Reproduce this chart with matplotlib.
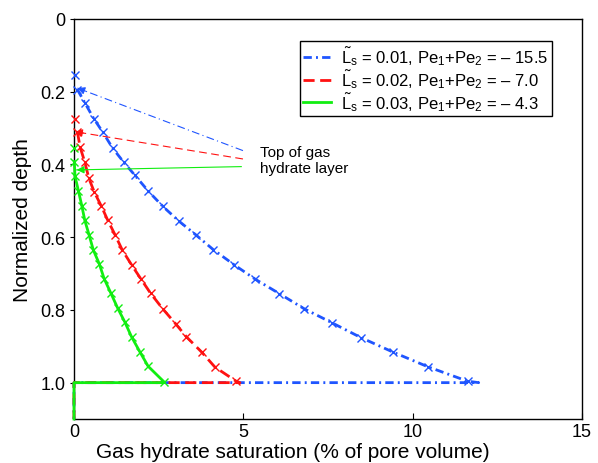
import matplotlib
matplotlib.use("Agg")
import matplotlib.pyplot as plt

plt.rcParams['font.family'] = ['Liberation Sans', 'DejaVu Sans']
plt.rcParams['mathtext.fontset'] = 'custom'
plt.rcParams['mathtext.rm'] = 'Liberation Sans'
plt.rcParams['mathtext.it'] = 'Liberation Sans:italic'

# ---- data ----
blue_depth = [0.154, 0.194, 0.232, 0.275, 0.311, 0.355, 0.394, 0.430, 0.474, 0.515, 0.556,
              0.593, 0.634, 0.676, 0.716, 0.755, 0.797, 0.835, 0.876, 0.916, 0.956, 0.996]
blue_sat = [0.03, 0.10, 0.33, 0.59, 0.85, 1.14, 1.47, 1.80, 2.20, 2.62, 3.10,
            3.59, 4.11, 4.73, 5.36, 6.06, 6.80, 7.61, 8.47, 9.42, 10.44, 11.62]
blue_end = 11.95

red_depth = [0.275, 0.310, 0.352, 0.394, 0.438, 0.476, 0.515, 0.552, 0.593, 0.636,
             0.676, 0.714, 0.754, 0.797, 0.838, 0.874, 0.916, 0.957, 0.995]
red_sat = [0.03, 0.10, 0.18, 0.32, 0.44, 0.60, 0.81, 0.99, 1.21, 1.43,
           1.70, 1.97, 2.26, 2.62, 3.00, 3.32, 3.77, 4.16, 4.77]
red_end = 4.9

green_depth = [0.355, 0.392, 0.432, 0.472, 0.513, 0.554, 0.595, 0.635, 0.674,
               0.714, 0.754, 0.795, 0.833, 0.874, 0.916, 0.955, 0.998]
green_sat = [0.00, 0.01, 0.03, 0.13, 0.23, 0.32, 0.45, 0.57, 0.75,
             0.89, 1.09, 1.29, 1.50, 1.70, 1.95, 2.19, 2.66]
green_end = 2.63

base_depth = 1.0
bottom_depth = 1.1

labels = [r'$\tilde{\mathrm{L}}_\mathrm{s}$ = 0.01, Pe$_1$+Pe$_2$ = – 15.5',
          r'$\tilde{\mathrm{L}}_\mathrm{s}$ = 0.02, Pe$_1$+Pe$_2$ = – 7.0',
          r'$\tilde{\mathrm{L}}_\mathrm{s}$ = 0.03, Pe$_1$+Pe$_2$ = – 4.3']

# annotation: tails and tips of the "top of layer" arrows (sat, depth)
arrow_tail = [(4.99, 0.362), (4.99, 0.385), (4.94, 0.406)]
arrow_tip = [(0.10, 0.190), (0.03, 0.310), (0.08, 0.415)]
note_pos = (5.49, 0.388)
note_text = "Top of gas\nhydrate layer"

xticks = [0, 5, 10, 15]
yticks = [0, 0.2, 0.4, 0.6, 0.8, 1.0]
yticklabels = ['0', '0.2', '0.4', '0.6', '0.8', '1.0']

colors = ['#1f55ff', '#ff1111', '#11ee11']
styles = [(0, (3, 1.5, 0.7, 1.5)), (0, (4, 2)), '-']
thin_styles = [(0, (7, 3, 1, 3)), (0, (7, 4)), '-']

fig = plt.figure(figsize=(5.98, 4.64), dpi=100)
ax = fig.add_axes([0.1237, 0.0948, 0.8495, 0.8622])

series = [(blue_sat, blue_depth, blue_end), (red_sat, red_depth, red_end),
          (green_sat, green_depth, green_end)]
for i, (s, d, e) in enumerate(series):
    lx = list(s[1:]) + [e, 0, 0]
    ly = list(d[1:]) + [base_depth, base_depth, bottom_depth]
    ax.plot(lx, ly, color=colors[i], linestyle=styles[i], lw=2.0,
            label=labels[i], zorder=3 + i, clip_on=False)
    ax.plot(s, d, linestyle='none', marker='x', color=colors[i], ms=5.5,
            mew=1.0, zorder=3 + i, clip_on=False)

for i in range(3):
    (tx, ty), (hx, hy) = arrow_tail[i], arrow_tip[i]
    ax.plot([tx, hx], [ty, hy], color=colors[i], linestyle=thin_styles[i], lw=0.8, zorder=6)
    ax.annotate('', xy=(hx, hy), xytext=(hx + (tx - hx) * 0.05, hy + (ty - hy) * 0.05),
                arrowprops=dict(arrowstyle='-|>', color=colors[i], lw=0.8,
                                mutation_scale=11, shrinkA=0, shrinkB=0), zorder=7)

ax.text(note_pos[0], note_pos[1], note_text, fontsize=11, va='center', ha='left',
        linespacing=1.15)

ax.set_xlim(0, 15)
ax.set_ylim(bottom_depth, 0)
ax.set_xticks(xticks)
ax.set_yticks(yticks)
ax.set_yticklabels(yticklabels)
ax.tick_params(axis='x', direction='in', labelsize=13, length=4, pad=3)
ax.tick_params(axis='y', direction='out', labelsize=13, length=3, pad=3)
ax.set_xlabel('Gas hydrate saturation (% of pore volume)', fontsize=15, labelpad=1)
ax.xaxis.label.set_x(0.43)
ax.set_ylabel('Normalized depth', fontsize=15, labelpad=6)
for sp in ax.spines.values():
    sp.set_linewidth(1.0)

leg = ax.legend(loc='upper right', bbox_to_anchor=(0.941, 0.945), fontsize=12,
                fancybox=False, edgecolor='black', framealpha=1, borderaxespad=0,
                handlelength=1.7, labelspacing=0.0, borderpad=0.2, handletextpad=0.6)
leg.get_frame().set_linewidth(1.0)

fig.savefig('out.png', dpi=100)
